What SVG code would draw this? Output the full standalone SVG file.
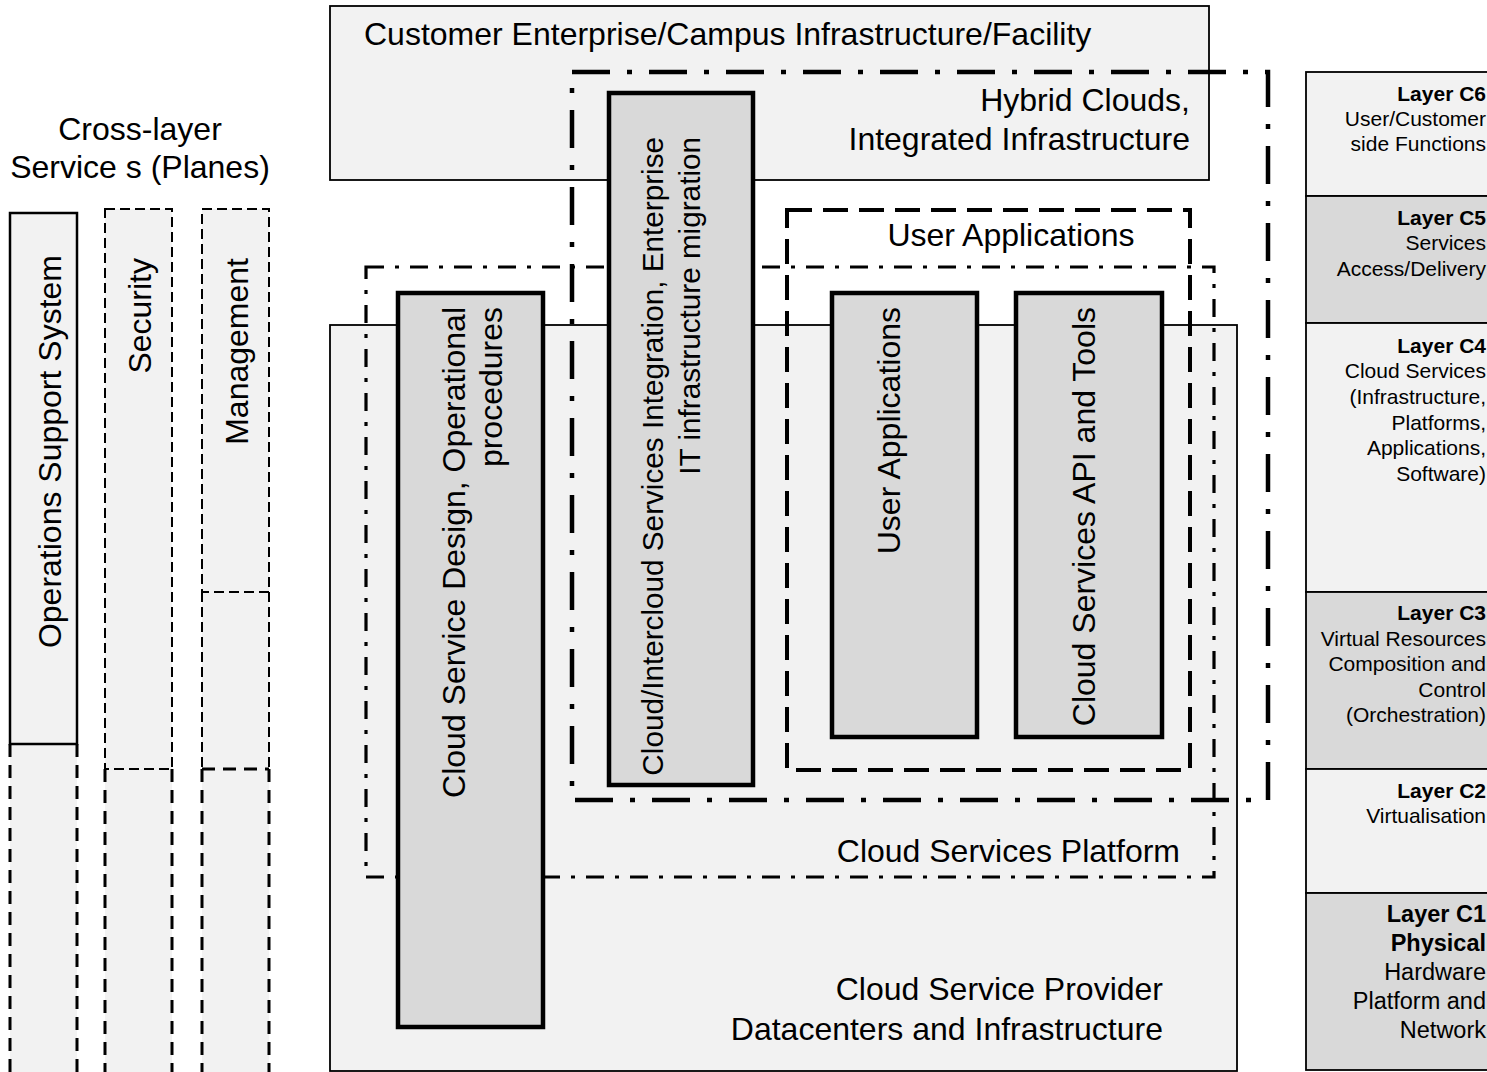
<svg xmlns="http://www.w3.org/2000/svg" width="1487" height="1072" viewBox="0 0 1487 1072">
<style>
text{font-family:"Liberation Sans",Arial,sans-serif;fill:#000}
.big{font-size:32px}
.mid{font-size:29.7px}
.lay{font-size:21px;text-anchor:end}
.lay1{font-size:23.5px;text-anchor:end}
.b{font-weight:bold}
.bg{fill:#f2f2f2;stroke:#000;stroke-width:1.8}
.dk{fill:#d9d9d9;stroke:#000;stroke-width:1.8}
.inner{fill:#d9d9d9;stroke:#000;stroke-width:4.5}
.hyb{fill:none;stroke:#000;stroke-width:4.5;stroke-dasharray:38 17 5 17}
.plat{fill:none;stroke:#000;stroke-width:3.2;stroke-dasharray:18 11 4 11}
.ua{fill:none;stroke:#000;stroke-width:4;stroke-dasharray:25 11}
.dthin{fill:none;stroke:#000;stroke-width:2;stroke-dasharray:10 5}
.dthick{fill:none;stroke:#000;stroke-width:3;stroke-dasharray:13 8}
</style>
<rect width="1487" height="1072" fill="#fff"/>

<g id="customer-enterprise">
<rect class="bg" x="330" y="6" width="879" height="174"/>
<text class="big" x="364" y="45">Customer Enterprise/Campus Infrastructure/Facility</text>
</g>

<g id="cloud-service-provider">
<rect class="bg" x="330" y="325" width="907" height="746"/>
<text class="big" x="1163" y="1000" text-anchor="end">Cloud Service Provider</text>
<text class="big" x="1163" y="1040" text-anchor="end">Datacenters and Infrastructure</text>
</g>

<g id="hybrid-clouds">
<rect class="hyb" x="572" y="72" width="696" height="728"/>
<text class="big" x="1190" y="111" text-anchor="end">Hybrid Clouds,</text>
<text class="big" x="1190" y="150" text-anchor="end">Integrated Infrastructure</text>
</g>

<g id="cloud-services-platform">
<rect class="plat" x="366" y="267" width="848" height="610"/>
<text class="big" x="1180" y="862" text-anchor="end">Cloud Services Platform</text>
</g>

<g id="user-applications-group">
<rect class="ua" x="787" y="210" width="403" height="560"/>
<text class="big" x="1011" y="246" text-anchor="middle">User Applications</text>
</g>

<g id="cloud-service-design">
<rect class="inner" x="398" y="293" width="145" height="734"/>
<text class="big" transform="translate(465,307) rotate(-90)" text-anchor="end">Cloud Service Design, Operational</text>
<text class="big" transform="translate(502,307) rotate(-90)" text-anchor="end">procedures</text>
</g>

<g id="intercloud-integration">
<rect class="inner" x="609" y="93" width="144" height="692"/>
<text class="mid" transform="translate(663,137) rotate(-90)" text-anchor="end">Cloud/Intercloud Services Integration, Enterprise</text>
<text class="mid" transform="translate(700,137) rotate(-90)" text-anchor="end">IT infrastructure  migration</text>
</g>

<g id="user-applications">
<rect class="inner" x="832" y="293" width="145" height="444"/>
<text class="big" transform="translate(900,307) rotate(-90)" text-anchor="end">User Applications</text>
</g>

<g id="cloud-services-api">
<rect class="inner" x="1016" y="293" width="146" height="444"/>
<text class="big" transform="translate(1095,307) rotate(-90)" text-anchor="end">Cloud Services API and Tools</text>
</g>

<g id="cross-layer-title">
<text class="big" x="140" y="140" text-anchor="middle">Cross-layer</text>
<text class="big" x="140" y="178" text-anchor="middle">Service s (Planes)</text>
</g>

<g id="operations-support-system">
<rect x="10" y="213" width="67" height="859" fill="#f2f2f2"/>
<path d="M10,744 V1072 M77,744 V1072" class="dthick"/>
<rect x="10" y="213" width="67" height="531" fill="none" stroke="#000" stroke-width="2.5"/>
<text class="big" transform="translate(61,255) rotate(-90)" text-anchor="end">Operations Support System</text>
</g>

<g id="security">
<rect x="105" y="209" width="67" height="863" fill="#f2f2f2"/>
<rect class="dthin" x="105" y="209" width="67" height="560"/>
<path d="M105,769 V1072 M172,769 V1072" class="dthick"/>
<text class="big" transform="translate(151,258) rotate(-90)" text-anchor="end">Security</text>
</g>

<g id="management">
<rect x="202" y="209" width="67" height="863" fill="#f2f2f2"/>
<rect class="dthin" x="202" y="209" width="67" height="383" stroke-width="2.5"/>
<path d="M202,592 V769 M269,592 V769" class="dthin"/>
<path d="M202,769 H269 M202,769 V1072 M269,769 V1072" class="dthick"/>
<text class="big" transform="translate(248,258) rotate(-90)" text-anchor="end">Management</text>
</g>

<g id="layer-c6">
<rect class="bg" x="1306" y="72" width="190" height="124" stroke-width="2.5"/>
<text class="lay b" x="1486" y="101">Layer C6</text>
<text class="lay" x="1486" y="126">User/Customer</text>
<text class="lay" x="1486" y="151">side Functions</text>
</g>
<g id="layer-c5">
<rect class="dk" x="1306" y="196" width="190" height="127" stroke-width="2.5"/>
<text class="lay b" x="1486" y="225">Layer C5</text>
<text class="lay" x="1486" y="250">Services</text>
<text class="lay" x="1486" y="276">Access/Delivery</text>
</g>
<g id="layer-c4">
<rect class="bg" x="1306" y="323" width="190" height="269" stroke-width="2.5"/>
<text class="lay b" x="1486" y="353">Layer C4</text>
<text class="lay" x="1486" y="378">Cloud Services</text>
<text class="lay" x="1486" y="404">(Infrastructure,</text>
<text class="lay" x="1486" y="430">Platforms,</text>
<text class="lay" x="1486" y="455">Applications,</text>
<text class="lay" x="1486" y="481">Software)</text>
</g>
<g id="layer-c3">
<rect class="dk" x="1306" y="592" width="190" height="177" stroke-width="2.5"/>
<text class="lay b" x="1486" y="620">Layer C3</text>
<text class="lay" x="1486" y="646">Virtual Resources</text>
<text class="lay" x="1486" y="671">Composition and</text>
<text class="lay" x="1486" y="697">Control</text>
<text class="lay" x="1486" y="722">(Orchestration)</text>
</g>
<g id="layer-c2">
<rect class="bg" x="1306" y="769" width="190" height="124" stroke-width="2.5"/>
<text class="lay b" x="1486" y="798">Layer C2</text>
<text class="lay" x="1486" y="823">Virtualisation</text>
</g>
<g id="layer-c1">
<rect class="dk" x="1306" y="893" width="190" height="177" stroke-width="2.5"/>
<text class="lay1 b" x="1486" y="922">Layer C1</text>
<text class="lay1 b" x="1486" y="951">Physical</text>
<text class="lay1" x="1486" y="980">Hardware</text>
<text class="lay1" x="1486" y="1009">Platform and</text>
<text class="lay1" x="1486" y="1038">Network</text>
</g>

<g id="connectors"/>
</svg>
